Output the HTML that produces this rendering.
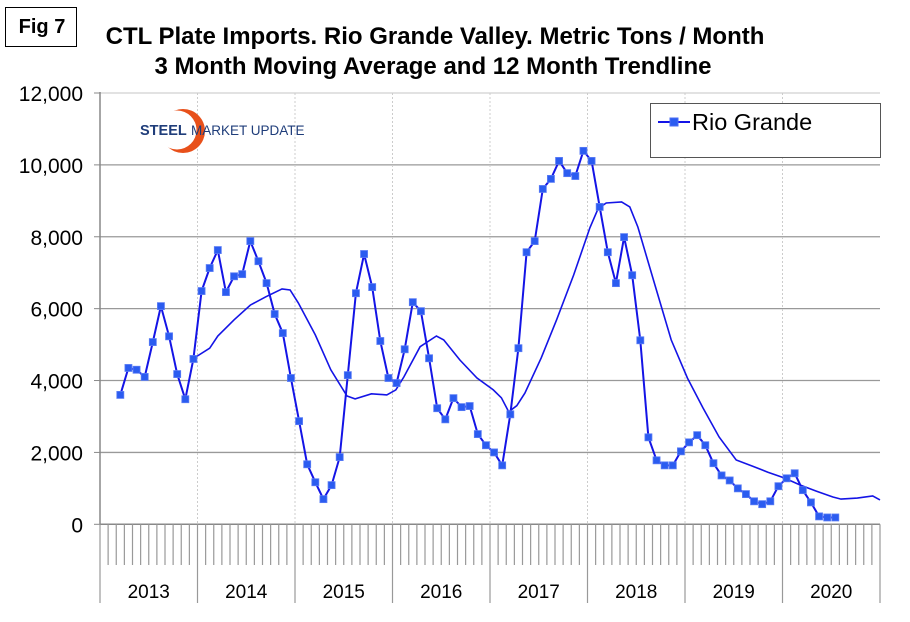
<!DOCTYPE html>
<html><head><meta charset="utf-8"><style>
body{margin:0;background:#fff;}
svg{display:block;font-family:"Liberation Sans",Arial,sans-serif;}
</style></head><body>
<svg id="chart" width="910" height="622" viewBox="0 0 910 622" xmlns="http://www.w3.org/2000/svg">
<rect x="0" y="0" width="910" height="622" fill="#fff"/>
<g>
<rect x="5.5" y="7.5" width="71" height="39" fill="#fff" stroke="#000" stroke-width="1"/>
<text x="42" y="33" font-size="20" font-weight="bold" text-anchor="middle">Fig 7</text>
</g>
<text x="435" y="44" font-size="24" font-weight="bold" text-anchor="middle">CTL Plate Imports. Rio Grande Valley. Metric Tons / Month</text>
<text x="433" y="74" font-size="24" font-weight="bold" text-anchor="middle">3 Month Moving Average and 12 Month Trendline</text>
<g id="grid"></g>
<g id="axes"></g>
<g>
<circle cx="183" cy="131" r="22" fill="#e8501a"/>
<circle cx="177" cy="130" r="19.5" fill="#fff"/>
<text x="140" y="135" font-size="14.5" font-weight="bold" fill="#1f3d7a">STEEL</text>
<text x="191" y="135" font-size="13.5" fill="#1f3d7a">MARKET UPDATE</text>
</g>
<g id="series"></g>
<g>
<rect x="650.5" y="103.5" width="230" height="54" fill="#fff" stroke="#555" stroke-width="1"/>
<line x1="658" y1="122" x2="690" y2="122" stroke="#1414e6" stroke-width="2"/>
<rect x="670" y="118" width="8" height="8" fill="#2b5cf0" stroke="#4a6cf5"/>
<text x="692" y="130" font-size="23.5">Rio Grande</text>
</g>
</svg>
<script>
const yTicks=[0,2000,4000,6000,8000,10000,12000];
const yTickLabels=["0","2,000","4,000","6,000","8,000","10,000","12,000"];
const years=["2013","2014","2015","2016","2017","2018","2019","2020"];
const startMonth=2;
const rioGrande=[3600,4350,4300,4100,5070,6070,5230,4180,3480,4600,6490,7130,7630,6460,6900,6960,7880,7320,6710,5850,5320,4070,2870,1670,1170,700,1090,1870,4150,6430,7520,6600,5100,4070,3930,4870,6180,5930,4620,3230,2920,3510,3260,3290,2510,2200,2000,1640,3060,4900,7570,7880,9330,9610,10110,9770,9690,10390,10110,8830,7570,6710,7990,6930,5120,2420,1780,1640,1640,2030,2280,2480,2200,1700,1360,1220,1000,840,640,560,640,1060,1280,1420,950,610,220,190,190];
const trendMonths=[10.9,13,14,16,18,19.9,21.9,22.9,23.9,26,27.9,29.9,30.9,32.9,34.8,35.9,36.9,38.9,40.9,41.8,43.8,45.9,47.9,48.9,49.8,50.8,51.8,53.8,55.7,57.8,59.8,60.8,61.8,63.7,64.7,65.7,67.8,69.8,71.8,73.7,75.7,77.8,79.8,81.7,83.7,85.7,87.7,89.7,90.7,92.7,94.6,95.5];
const trend=[4600,4900,5240,5690,6100,6330,6550,6520,6160,5270,4300,3570,3490,3630,3600,3740,4100,4940,5240,5130,4570,4070,3740,3520,3130,3300,3650,4630,5690,6940,8250,8780,8940,8970,8830,8270,6660,5130,4070,3240,2430,1790,1620,1450,1290,1090,920,760,700,730,790,680];
const NS="http://www.w3.org/2000/svg";
const X0=100,X1=880,Y0=524.3,YTOP=93,YMAX=12000,NM=96;
const xs=m=>X0+(m+0.5)*(X1-X0)/NM;
const xb=m=>X0+m*(X1-X0)/NM;
const ys=v=>Y0-v*(Y0-YTOP)/YMAX;
function mk(tag,attrs,parent){const e=document.createElementNS(NS,tag);for(const k in attrs)e.setAttribute(k,attrs[k]);parent.appendChild(e);return e;}
const grid=document.getElementById('grid'),axes=document.getElementById('axes'),series=document.getElementById('series');
yTicks.forEach((t,i)=>{
  if(t>0){const l=mk('line',{x1:X0,x2:X1,y1:ys(t),y2:ys(t),stroke:i==yTicks.length-1?'#d0d0d0':'#999','stroke-width':1.3},grid);
  
  }
  const tk=mk('line',{x1:X0-6,x2:X0,y1:ys(t),y2:ys(t),stroke:'#888'},axes);
  
  
  const tx=mk('text',{x:83,y:ys(t)+8,'font-size':21,'text-anchor':'end'},axes);
  tx.textContent=yTickLabels[i];
  
  
});
for(let y=1;y<years.length;y++){
  const l=mk('line',{x1:xb(y*12),x2:xb(y*12),y1:YTOP,y2:Y0,stroke:'#ccc','stroke-dasharray':'2,2'},grid);
  
  
}
const ax=mk('line',{x1:X0,x2:X0,y1:YTOP-1,y2:Y0,stroke:'#888','stroke-width':1.5},axes);


const bx=mk('line',{x1:X0,x2:X1,y1:Y0,y2:Y0,stroke:'#888','stroke-width':1.5},axes);


for(let m=0;m<=NM;m++){
  const major=m%12==0;
  const t=mk('line',{x1:xb(m),x2:xb(m),y1:Y0,y2:major?603:565,stroke:'#999','stroke-width':1.2},axes);
  
  
}
years.forEach((yr,i)=>{
  const t=mk('text',{x:(xb(i*12)+xb(i*12+12))/2,y:598,'font-size':19,'text-anchor':'middle'},axes);
  t.textContent=yr;
  
  
});
const tp=mk('path',{d:trend.map((v,i)=>(i?'L':'M')+xs(trendMonths[i]).toFixed(1)+','+ys(v).toFixed(1)).join(''),fill:'none',stroke:'#1414e6','stroke-width':1.6},series);


const lp=mk('path',{d:rioGrande.map((v,i)=>(i?'L':'M')+xs(startMonth+i).toFixed(1)+','+ys(v).toFixed(1)).join(''),fill:'none',stroke:'#1414e6','stroke-width':2},series);


rioGrande.forEach((v,i)=>{
  const r=mk('rect',{x:xs(startMonth+i)-3.5,y:ys(v)-3.5,width:7,height:7,fill:'#2b5cf0',stroke:'#5a7cf5','stroke-width':0.8},series);
  
  
});
</script>
</body></html>
